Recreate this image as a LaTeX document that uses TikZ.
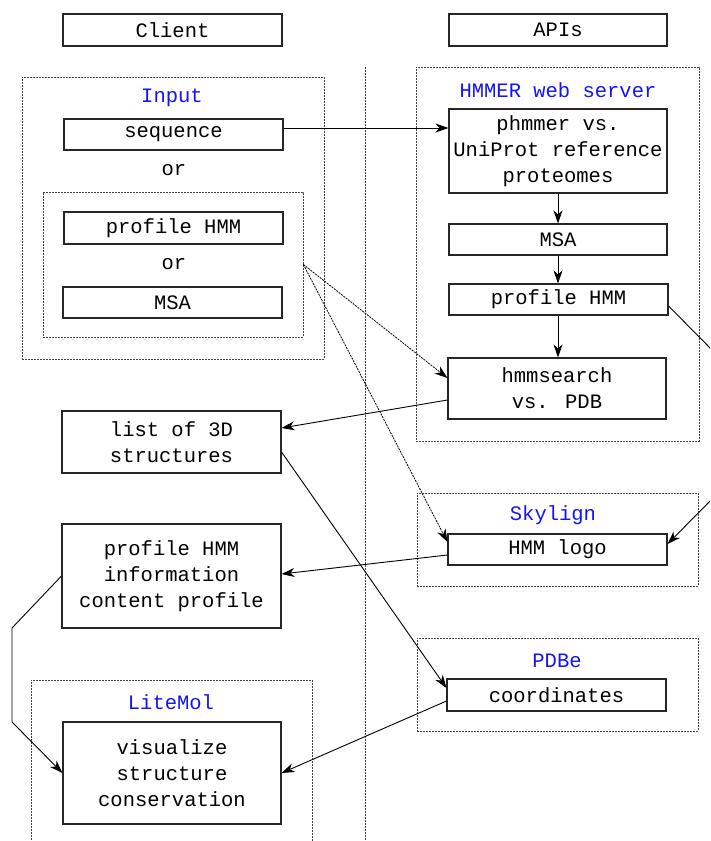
\documentclass[tikz,border=0pt]{standalone}
\usepackage{fontspec}
\setmainfont{Liberation Mono}
\usetikzlibrary{arrows.meta}
\definecolor{lblblue}{RGB}{20,20,245}
\begin{document}
\begin{tikzpicture}[x=1pt,y=-1pt,
  every node/.style={font=\fontsize{20.5}{26}\selectfont, inner sep=0pt, align=center},
  box/.style={draw=black!85, line width=1.1pt, fill=white},
  grp/.style={draw=black!75, line width=0.8pt, dash pattern=on 2pt off 1pt},
  lbl/.style={text=lblblue},
  arr/.style={line width=0.9pt, -{Stealth[length=13pt,width=9pt,inset=4pt]}},
  darr/.style={line width=0.8pt, dash pattern=on 2pt off 1pt, -{Stealth[length=13pt,width=9pt,inset=4pt]}}]
\clip (0,0) rectangle (710,841);
\fill[white] (0,0) rectangle (710,841);
% group frames
\node[grp, minimum width=302pt, minimum height=282pt] (inputbox) at (173,218) {};
\node[grp, minimum width=260pt, minimum height=145pt] (inner) at (173,264.5) {};
\node[grp, minimum width=283pt, minimum height=374pt] (hmmerbox) at (557.5,254) {};
\node[grp, minimum width=281pt, minimum height=93pt] (skybox) at (557.5,539.5) {};
\node[grp, minimum width=281pt, minimum height=93pt] (pdbebox) at (557.5,684.5) {};
\node[grp, minimum width=281pt, minimum height=240pt] (litebox) at (171.5,800) {};
% divider
\coordinate (dtop) at (365,67);
\coordinate (dbot) at (365,860);
\draw[grp] (dtop) -- (dbot);
% labels
\node[lbl] (linput) at (172,98) {Input};
\node (or1) at (174,170) {or};
\node (or2) at (174,264) {or};
\node[lbl] (lhmmer) at (558,90) {HMMER web server};
\node[lbl] (lsky) at (553,515) {Skylign};
\node[lbl] (lpdbe) at (557,661) {PDBe};
\node[lbl] (llite) at (171,702) {LiteMol};
% boxes
\node[box, minimum width=219pt, minimum height=32pt] (client) at (172.5,30) {Client};
\node[box, minimum width=218pt, minimum height=32pt] (apis) at (558,30) {APIs};
\node[box, minimum width=219pt, minimum height=31pt] (seq) at (173.5,134.5) {sequence};
\node[box, minimum width=219pt, minimum height=32pt] (phmm1) at (173.5,228) {profile HMM};
\node[box, minimum width=219pt, minimum height=31pt] (msa1) at (172.5,302.5) {MSA};
\node[box, minimum width=218pt, minimum height=84pt] (phmmer) at (558,151) {phmmer vs.\\UniProt reference\\proteomes};
\node[box, minimum width=218pt, minimum height=31pt] (msa2) at (558,239.5) {MSA};
\node[box, minimum width=219pt, minimum height=31pt] (phmm2) at (558.5,299.5) {profile HMM};
\node[box, minimum width=218pt, minimum height=61pt] (hsearch) at (557,388.5) {hmmsearch\\vs. PDB};
\node[box, minimum width=219pt, minimum height=62pt] (list3d) at (171.5,442) {list of 3D\\structures};
\node[box, minimum width=219pt, minimum height=104pt] (info) at (171.5,576) {profile HMM\\information\\content profile};
\node[box, minimum width=218pt, minimum height=102pt] (vis) at (172,773) {visualize\\structure\\conservation};
\node[box, minimum width=219pt, minimum height=31pt] (logo) at (557.5,549.5) {HMM logo};
\node[box, minimum width=219pt, minimum height=32pt] (coords) at (556.5,695) {coordinates};
% connectors
\coordinate (s1) at ([yshift=6.5pt]seq.east);
\draw[arr] (s1) -- (s1 -| phmmer.west);
\draw[arr] (phmmer.south) -- (msa2.north);
\draw[arr] (msa2.south) -- (msa2.south |- phmm2.north);
\draw[arr] (phmm2.south -| msa2.south) -- (msa2.south |- hsearch.north);
\draw[darr] (inner.east) -- ([yshift=10.5pt]hsearch.west);
\draw[darr] (inner.east) -- ([yshift=7.5pt]logo.west);
\draw[arr] ([yshift=-11.5pt]hsearch.west) -- ([yshift=14pt]list3d.east);
\draw[arr] ([yshift=-10pt]list3d.east) -- ([yshift=7pt]coords.west);
\coordinate (r1) at (718,356);
\coordinate (r2) at (718,493);
\draw[arr] ([yshift=-6.5pt]phmm2.east) -- (r1) -- (r2) -- ([yshift=5.5pt]logo.east);
\draw[arr] ([yshift=-5.5pt]logo.west) -- ([yshift=2pt]info.east);
\coordinate (l1) at (12,628);
\coordinate (l2) at (12,722);
\draw[arr] (info.west) -- (l1) -- (l2) -- (vis.west);
\draw[arr] ([yshift=-6pt]coords.west) -- (vis.east);
\end{tikzpicture}
\end{document}
